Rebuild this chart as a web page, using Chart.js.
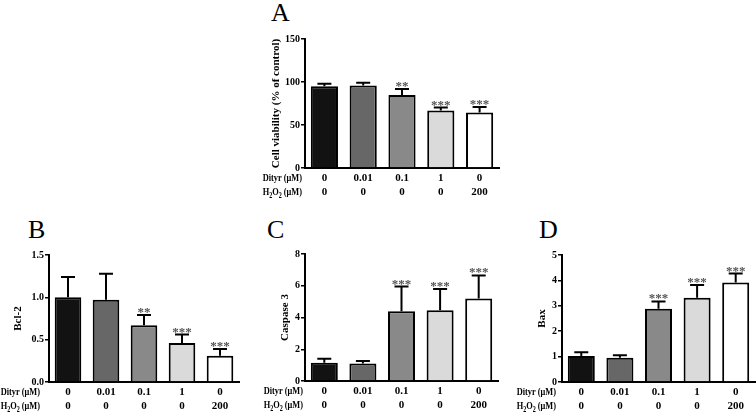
<!DOCTYPE html>
<html>
<head>
<meta charset="utf-8">
<script src="https://cdn.jsdelivr.net/npm/chart.js@4.4.1/dist/chart.umd.min.js"></script>
<style>
  body { margin: 0; background: #fff; }
  #fig { position: relative; width: 756px; height: 415px; overflow: hidden; background: #fff; }
  #fig canvas { position: absolute; }
  .letter {
    position: absolute;
    font-family: "Liberation Serif", "Times New Roman", serif;
    font-size: 26px;
    line-height: 1;
    color: #000;
  }
</style>
</head>
<body>
<div id="fig">
  <div class="letter" style="left:271px;top:0px">A</div>
  <div class="letter" style="left:28px;top:217px">B</div>
  <div class="letter" style="left:267px;top:217px">C</div>
  <div class="letter" style="left:539px;top:217px">D</div>
  <canvas id="chartA" width="270" height="205" style="left:240px;top:0px"></canvas>
  <canvas id="chartB" width="250" height="200" style="left:0px;top:215px"></canvas>
  <canvas id="chartC" width="255" height="200" style="left:250px;top:215px"></canvas>
  <canvas id="chartD" width="251" height="200" style="left:505px;top:215px"></canvas>
</div>
<script>
// Treatment groups (row labels under each panel)
const dityrDose = ['0', '0.01', '0.1', '1', '0'];
const h2o2Dose = ['0', '0', '0', '0', '200'];

// A - cell viability (% of control)
const viabilityMean = [95, 96, 85, 67, 64.5];
const viabilitySem = [3, 3, 7, 3.3, 6.5];
const viabilityStars = ['', '', '**', '***', '***'];

// B - Bcl-2
const bcl2Mean = [1.0, 0.97, 0.67, 0.46, 0.31];
const bcl2Sem = [0.24, 0.31, 0.12, 0.10, 0.08];
const bcl2Stars = ['', '', '**', '***', '***'];

// C - Caspase 3
const caspase3Mean = [1.15, 1.1, 4.4, 4.45, 5.2];
const caspase3Sem = [0.25, 0.16, 1.55, 1.35, 1.45];
const caspase3Stars = ['', '', '***', '***', '***'];

// D - Bax
const baxMean = [1.02, 0.95, 2.88, 3.32, 3.92];
const baxSem = [0.15, 0.1, 0.29, 0.5, 0.35];
const baxStars = ['', '', '***', '***', '***'];

const SERIF = '"Liberation Serif", "Times New Roman", serif';
const barColors = ['#121212', '#676767', '#898989', '#dadada', '#ffffff'];
const groupKeys = dityrDose.map((d, i) => d + '/' + h2o2Dose[i]);

// Error bars (upper only) + significance asterisks
const errorBarPlugin = {
  id: 'errorBars',
  afterDatasetsDraw(chart) {
    const { ctx } = chart;
    const y = chart.scales.y;
    const ds = chart.data.datasets[0];
    const meta = chart.getDatasetMeta(0);
    ctx.save();
    meta.data.forEach((bar, i) => {
      const top = y.getPixelForValue(ds.data[i] + ds.sem[i]);
      ctx.strokeStyle = '#000';
      ctx.lineWidth = 2;
      ctx.beginPath();
      ctx.moveTo(bar.x, bar.y);
      ctx.lineTo(bar.x, top);
      ctx.moveTo(bar.x - 7, top);
      ctx.lineTo(bar.x + 7, top);
      ctx.stroke();
      if (ds.stars[i]) {
        ctx.fillStyle = '#555';
        ctx.font = 'bold 13px ' + SERIF;
        ctx.textAlign = 'center';
        ctx.textBaseline = 'alphabetic';
        ctx.fillText(ds.stars[i], bar.x, top + 1);
      }
    });
    ctx.restore();
  }
};

// draw a label made of pieces (some subscript), right aligned and a bit condensed
function drawHeader(ctx, pieces, right, y, squeeze) {
  const bigFont = 'bold 11px ' + SERIF;
  const subFont = 'bold 8px ' + SERIF;
  let total = 0;
  pieces.forEach(p => {
    ctx.font = p.sub ? subFont : bigFont;
    p.w = ctx.measureText(p.t).width;
    total += p.w;
  });
  ctx.save();
  ctx.translate(right, y);
  ctx.scale(squeeze, 1);
  ctx.textAlign = 'left';
  ctx.textBaseline = 'middle';
  let x = -total;
  pieces.forEach(p => {
    ctx.font = p.sub ? subFont : bigFont;
    ctx.fillText(p.t, x, p.sub ? 3 : 0);
    x += p.w;
  });
  ctx.restore();
}

// Dose rows under the x axis
const rowLabelPlugin = {
  id: 'rowLabels',
  afterDraw(chart, args, opts) {
    const { ctx } = chart;
    const x = chart.scales.x;
    const axisY = x.top;
    ctx.save();
    ctx.fillStyle = '#000';
    ctx.font = 'bold 11px ' + SERIF;
    ctx.textAlign = 'center';
    ctx.textBaseline = 'middle';
    dityrDose.forEach((t, i) => ctx.fillText(t, x.getPixelForValue(i), axisY + 10));
    h2o2Dose.forEach((t, i) => ctx.fillText(t, x.getPixelForValue(i), axisY + 24.5));
    drawHeader(ctx, [{ t: 'Dityr (μM)' }], opts.headerRight, axisY + 10, 0.76);
    drawHeader(ctx, [{ t: 'H' }, { t: '2', sub: true }, { t: 'O' }, { t: '2', sub: true }, { t: ' (μM)' }],
      opts.headerRight, axisY + 24.5, 0.76);
    ctx.restore();
  }
};

function makePanel(id, mean, sem, stars, yTitle, yMax, yStep, layout) {
  const ctx = document.getElementById(id).getContext('2d');
  return new Chart(ctx, {
    type: 'bar',
    data: {
      labels: groupKeys,
      datasets: [{
        data: mean,
        sem: sem,
        stars: stars,
        backgroundColor: barColors,
        borderColor: '#000',
        borderWidth: 2,
        borderSkipped: 'bottom',
        barPercentage: 0.7,
        categoryPercentage: 1.0
      }]
    },
    options: {
      responsive: false,
      animation: false,
      devicePixelRatio: 1,
      layout: { padding: { top: layout.padTop, right: layout.padRight, left: 0, bottom: 0 } },
      plugins: {
        legend: { display: false },
        tooltip: { enabled: false },
        rowLabels: { headerRight: layout.headerRight }
      },
      scales: {
        x: {
          grid: { display: false },
          border: { display: true, color: '#000', width: 2 },
          ticks: { display: false },
          afterFit: s => { s.height = layout.xHeight; }
        },
        y: {
          min: 0,
          max: yMax,
          grid: { display: true, drawOnChartArea: false, drawTicks: true, tickLength: 4, color: '#000', lineWidth: 1.5 },
          border: { display: true, color: '#000', width: 2 },
          ticks: {
            stepSize: yStep,
            color: '#000',
            padding: 1,
            font: { family: SERIF, size: 10, weight: 'bold' },
            callback: v => (yStep < 1 ? v.toFixed(1) : v)
          },
          title: {
            display: true,
            text: yTitle,
            color: '#000',
            font: { family: SERIF, size: 11, weight: 'bold' },
            padding: { top: layout.titlePad, bottom: 0 }
          },
          afterFit: s => { s.width = layout.yWidth; }
        }
      }
    },
    plugins: [errorBarPlugin, rowLabelPlugin]
  });
}

makePanel('chartA', viabilityMean, viabilitySem, viabilityStars, 'Cell viability (% of control)', 150, 50,
  { padTop: 39, padRight: 11, xHeight: 37, yWidth: 65, titlePad: 30, headerRight: 62 });
makePanel('chartB', bcl2Mean, bcl2Sem, bcl2Stars, 'Bcl-2', 1.5, 0.5,
  { padTop: 40, padRight: 11, xHeight: 33, yWidth: 49, titlePad: 12, headerRight: 40 });
makePanel('chartC', caspase3Mean, caspase3Sem, caspase3Stars, 'Caspase 3', 8, 2,
  { padTop: 39, padRight: 7, xHeight: 34, yWidth: 55, titlePad: 29, headerRight: 53 });
makePanel('chartD', baxMean, baxSem, baxStars, 'Bax', 5, 1,
  { padTop: 40, padRight: 1, xHeight: 33, yWidth: 57, titlePad: 31, headerRight: 51 });
</script>
</body>
</html>
